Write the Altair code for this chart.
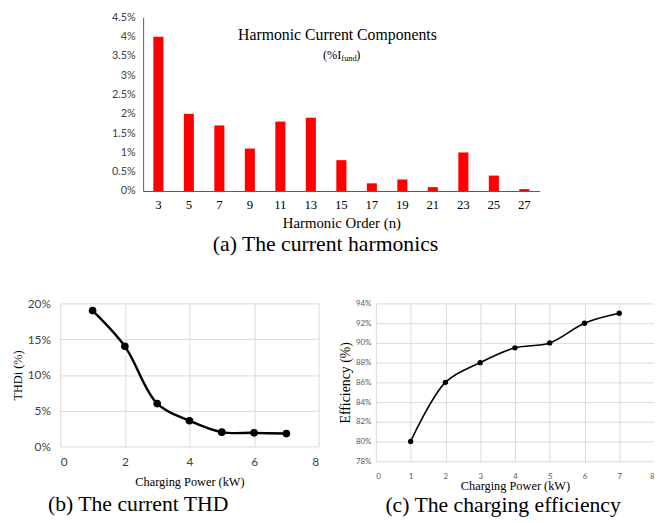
import altair as alt
import pandas as pd

# ---------------- data ----------------
harm_order = [3, 5, 7, 9, 11, 13, 15, 17, 19, 21, 23, 25, 27]
harm_pct = [4.0, 2.0, 1.7, 1.1, 1.8, 1.9, 0.8, 0.2, 0.3, 0.1, 1.0, 0.4, 0.05]
harm_ticks = [0, 0.5, 1, 1.5, 2, 2.5, 3, 3.5, 4, 4.5]

power_kw = [1, 2, 3, 4, 5, 6, 7]
thd_pct = [19.0, 14.0, 6.0, 3.6, 2.0, 1.9, 1.8]
thd_ticks = [0, 5, 10, 15, 20]
thd_x_ticks = [0, 2, 4, 6, 8]

eff_pct = [80.0, 86.0, 88.0, 89.5, 90.0, 92.0, 93.0]
eff_ticks = [78, 80, 82, 84, 86, 88, 90, 92, 94]
eff_x_ticks = [0, 1, 2, 3, 4, 5, 6, 7, 8]

SERIF = "Times New Roman, Liberation Serif, serif"
SANS = "Lato, sans-serif"
GRID = "#d9d9d9"

# ---------------- (a) harmonics ----------------
harm_df = pd.DataFrame({"order": harm_order, "pct": harm_pct})
bars = alt.Chart(harm_df).mark_bar(color="#ff0000").encode(
    x=alt.X("order:O", sort=harm_order,
            scale=alt.Scale(paddingInner=0.67, paddingOuter=0.335),
            axis=alt.Axis(title="Harmonic Order (n)", labelAngle=0, labelFont=SERIF,
                          labelFontSize=13, labelColor="black", labelPadding=8,
                          ticks=False, grid=False, domainColor="#595959",
                          titleFont=SERIF, titleFontSize=15, titleFontWeight="normal",
                          titlePadding=4, titleColor="black")),
    y=alt.Y("pct:Q", scale=alt.Scale(domain=[0, 4.5], nice=False),
            axis=alt.Axis(title=None, values=harm_ticks, labelExpr="datum.value + '%'",
                          labelFont=SANS, labelFontSize=11, labelColor="#404040",
                          labelPadding=8, ticks=False, grid=False, domainColor="#595959")),
)

one = pd.DataFrame({"t": ["Harmonic Current Components"]})
t_title = alt.Chart(one).mark_text(font=SERIF, fontSize=16, align="center",
                                   baseline="alphabetic", color="black").encode(
    text="t:N", x=alt.value(197), y=alt.value(23))
t_a = alt.Chart(pd.DataFrame({"t": ["(%I"]})).mark_text(
    font=SERIF, fontSize=12.5, align="right", baseline="alphabetic", color="black").encode(
    text="t:N", x=alt.value(201), y=alt.value(42))
t_b = alt.Chart(pd.DataFrame({"t": ["fund"]})).mark_text(
    font=SERIF, fontSize=8.5, align="left", baseline="alphabetic", color="black").encode(
    text="t:N", x=alt.value(201), y=alt.value(44))
t_c = alt.Chart(pd.DataFrame({"t": [")"]})).mark_text(
    font=SERIF, fontSize=12.5, align="left", baseline="alphabetic", color="black").encode(
    text="t:N", x=alt.value(216), y=alt.value(42))

chart_a = alt.layer(bars, t_title, t_a, t_b, t_c).properties(
    width=402, height=176,
    title=alt.Title("(a) The current harmonics", orient="bottom", anchor="middle",
                    frame="group", dx=-16, offset=4, font=SERIF, fontSize=22,
                    fontWeight="normal", color="black"))

# ---------------- (b) THD ----------------
thd_df = pd.DataFrame({"p": power_kw, "v": thd_pct})
base_b = alt.Chart(thd_df).encode(
    x=alt.X("p:Q", scale=alt.Scale(domain=[0, 8], nice=False),
            axis=alt.Axis(title="Charging Power (kW)", values=thd_x_ticks, format="d",
                          labelFont=SANS, labelFontSize=12, labelColor="#404040",
                          labelPadding=10, ticks=False, domain=False, grid=True,
                          titleFont=SERIF, titleFontSize=12.5, titleFontWeight="normal",
                          titleColor="black", titlePadding=9)),
    y=alt.Y("v:Q", scale=alt.Scale(domain=[0, 20], nice=False),
            axis=alt.Axis(title="THDi (%)", values=thd_ticks, labelExpr="datum.value + '%'",
                          labelFont=SANS, labelFontSize=12, labelColor="#404040",
                          labelPadding=10, ticks=False, domain=False, grid=True,
                          titleFont=SERIF, titleFontSize=12.5, titleFontWeight="normal",
                          titleColor="black", titlePadding=3)),
)
line_b = base_b.mark_line(interpolate="catmull-rom", color="black", strokeWidth=2.5)
pts_b = base_b.mark_circle(size=60, color="black", opacity=1)
chart_b = alt.layer(line_b, pts_b).properties(
    width=262, height=145,
    title=alt.Title("(b) The current THD", orient="bottom", anchor="middle",
                    frame="group", dx=-52, offset=6, font=SERIF, fontSize=22,
                    fontWeight="normal", color="black"))

# ---------------- (c) efficiency ----------------
eff_df = pd.DataFrame({"p": power_kw, "v": eff_pct})
base_c = alt.Chart(eff_df).encode(
    x=alt.X("p:Q", scale=alt.Scale(domain=[0, 8], nice=False),
            axis=alt.Axis(title="Charging Power (kW)", values=eff_x_ticks, format="d",
                          labelFont=SANS, labelFontSize=8, labelColor="#595959",
                          labelPadding=11, ticks=False, domain=False, grid=True,
                          labelFlush=True,
                          titleFont=SERIF, titleFontSize=12.5, titleFontWeight="normal",
                          titleColor="black", titlePadding=0)),
    y=alt.Y("v:Q", scale=alt.Scale(domain=[78, 94], nice=False),
            axis=alt.Axis(title="Efficiency (%)", values=eff_ticks,
                          labelExpr="datum.value + '%'",
                          labelFont=SANS, labelFontSize=8, labelColor="#595959",
                          labelPadding=5, ticks=False, domain=False, grid=True,
                          titleFont=SERIF, titleFontSize=14, titleFontWeight="normal",
                          titleColor="black", titlePadding=3)),
)
line_c = base_c.mark_line(interpolate="catmull-rom", color="black", strokeWidth=1.6)
pts_c = base_c.mark_circle(size=30, color="black", opacity=1)
chart_c = alt.layer(line_c, pts_c).properties(
    width=282, height=160,
    title=alt.Title("(c) The charging efficiency", orient="bottom", anchor="middle",
                    frame="group", dx=-12, offset=3, font=SERIF, fontSize=22,
                    fontWeight="normal", color="black"))

# ---------------- layout ----------------
spacer = alt.Chart(pd.DataFrame({"s": [0]})).mark_point(opacity=0, size=1).encode(
    x=alt.value(0), y=alt.value(0)).properties(width=51, height=10)

top_row = alt.hconcat(spacer, chart_a, spacing=0)
bottom_row = alt.hconcat(chart_b, chart_c, spacing=20)

chart = alt.vconcat(top_row, bottom_row, spacing=43).properties(
    padding={"left": 3, "top": 0, "right": 0, "bottom": 0}
).configure_view(stroke=None).configure_axis(gridColor=GRID, gridWidth=1)

chart.save("out.html", embed_options={"renderer": "svg", "actions": False})
